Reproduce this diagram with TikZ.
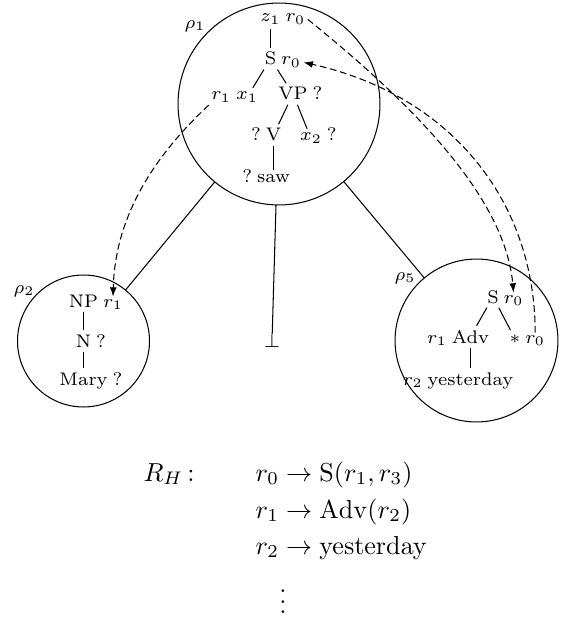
\documentclass[tikz,border=0pt]{standalone}
\usetikzlibrary{arrows.meta}
\begin{document}
\begin{tikzpicture}[x=0.0135cm,y=-0.0135cm,
  lab/.style={font=\scriptsize, inner sep=0.75pt, anchor=base},
  annr/.style={font=\scriptsize, inner sep=0.75pt, anchor=base west},
  annl/.style={font=\scriptsize, inner sep=0.75pt, anchor=base east},
  edge/.style={shorten <=0.8pt, shorten >=0.8pt},
  ring/.style={circle, draw, inner sep=0pt, outer sep=0pt},
  link/.style={dash pattern=on 2.6pt off 1.4pt, -{Latex[length=3.6pt,width=2.6pt]}},
  rowtxt/.style={inner sep=0pt, anchor=base west}]
\useasboundingbox (0,0) rectangle (564,630);

% circles
\node[ring, minimum size=2.727cm] (c1) at (279,104) {};
\node[ring, minimum size=1.782cm] (c2) at (83.5,341) {};
\node[ring, minimum size=2.2cm] (c5) at (476.5,340.5) {};
\node[font=\scriptsize] (rho1) at (195,26) {$\rho_1$};
\node[font=\scriptsize] (rho2) at (24,291) {$\rho_2$};
\node[font=\scriptsize] (rho5) at (405,278) {$\rho_5$};
\node[font=\scriptsize, inner sep=0pt] (bot) at (272,341) {$\bot$};

\draw (c1) -- (c2);
\draw (c1) -- (c5);
\draw (c1) -- (bot);

% tree in rho1
\node[lab] (z1) at (270.5,22) {$z_1$};
\node[annr] (z1r) at (z1.base east) {$r_0$};
\node[lab] (s1) at (270.5,65) {S};
\node[annr] (s1r) at (s1.base east) {$r_0$};
\node[lab] (x1) at (247,100) {$x_1$};
\node[annl] (x1l) at (x1.base west) {$r_1$};
\node[lab] (vp) at (293,100) {VP};
\node[annr] (vpr) at (vp.base east) {?};
\node[lab] (v) at (273.5,141) {V};
\node[annl] (vl) at (v.base west) {?};
\node[lab] (x2) at (311,141) {$x_2$};
\node[annr] (x2r) at (x2.base east) {?};
\node[lab] (saw) at (273.5,183) {saw};
\node[annl] (sawl) at (saw.base west) {?};
\draw[edge] (z1) -- (s1);
\draw[edge] (s1) -- (x1);
\draw[edge] (s1) -- (vp);
\draw[edge] (vp) -- (v);
\draw[edge] (vp) -- (x2);
\draw[edge] (v) -- (saw);

% tree in rho2
\node[lab] (np) at (83.5,307) {NP};
\node[annr] (npr) at (np.base east) {$r_1$};
\node[lab] (n) at (83.5,347) {N};
\node[annr] (nr) at (n.base east) {?};
\node[lab] (mary) at (83.5,385) {Mary};
\node[annr] (maryr) at (mary.base east) {?};
\draw[edge] (np) -- (n);
\draw[edge] (n) -- (mary);

% tree in rho5
\node[lab] (s5) at (493,303) {S};
\node[annr] (s5r) at (s5.base east) {$r_0$};
\node[lab] (adv) at (470.5,343) {Adv};
\node[annl] (advl) at (adv.base west) {$r_1$};
\node[lab] (star) at (515,343) {$*$};
\node[annr] (starr) at (star.base east) {$r_0$};
\node[lab] (yest) at (470.5,385) {yesterday};
\node[annl] (yestl) at (yest.base west) {$r_2$};
\draw[edge] (s5) -- (adv);
\draw[edge] (s5) -- (star);
\draw[edge] (adv) -- (yest);

% dashed links
\draw[link] (z1r.east) .. controls (420,110) and (505,200) .. (s5r.north);
\draw[link] (starr.north) .. controls (535,200) and (450,95) .. (s1r.east);
\draw[link] (x1l.south west) .. controls (150,160) and (115,220) .. (npr.north);

% rules
\node[rowtxt] (rh) at (143,481) {$R_H\,{:}$};
\node[rowtxt] (row1) at (255,481) {$r_0 \to \mathrm{S}(r_1, r_3)$};
\node[rowtxt] (row2) at (255,518) {$r_1 \to \mathrm{Adv}(r_2)$};
\node[rowtxt] (row3) at (255,554) {$r_2 \to \mathrm{yesterday}$};
\node[inner sep=0pt] (dots) at (283,594) {$\vdots$};
\end{tikzpicture}
\end{document}
